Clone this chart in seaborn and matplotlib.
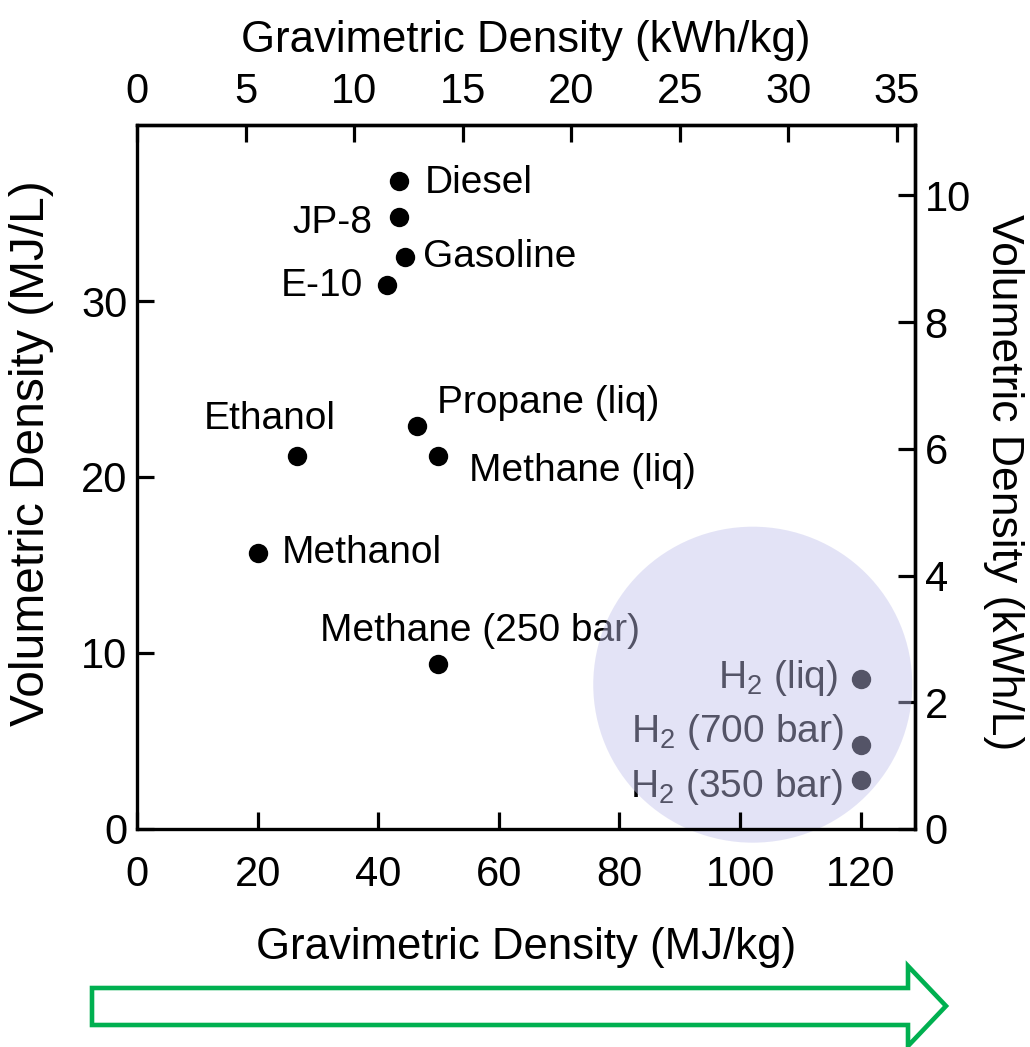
import matplotlib
matplotlib.use("Agg")
import matplotlib.pyplot as plt
import seaborn as sns
import pandas as pd
from matplotlib.patches import Ellipse, Polygon

# ---------------- data ----------------
fuels = ["Diesel", "JP-8", "Gasoline", "E-10", "Ethanol", "Propane (liq)",
         "Methane (liq)", "Methanol", "Methane (250 bar)",
         "H$_2$ (liq)", "H$_2$ (700 bar)", "H$_2$ (350 bar)"]
grav_mj_kg = [43.4, 43.4, 44.4, 41.5, 26.5, 46.4, 49.9, 20.1, 49.9, 120.1, 120.1, 120.1]
vol_mj_l = [36.8, 34.8, 32.5, 30.9, 21.2, 22.9, 21.2, 15.7, 9.4, 8.55, 4.76, 2.78]

x_ticks_mj_kg = [0, 20, 40, 60, 80, 100, 120]
y_ticks_mj_l = [0, 10, 20, 30]
x_ticks_kwh_kg = [0, 5, 10, 15, 20, 25, 30, 35]
y_ticks_kwh_l = [0, 2, 4, 6, 8, 10]

MJ_PER_KWH = 3.6

# label placement: pixel offsets from the dot (dx right, dy up) and alignment
label_dx = [26, -26, 18, -24, -27, 20, 31, 24, 42, -24, -18, -19]
label_dy = [-12, -16, -10, -11, 27, 13, -25, -10, 23, -9, 3, -17]
label_ha = ["left", "right", "left", "right", "center", "left", "left", "left",
            "center", "right", "right", "right"]

# ---------------- style ----------------
sns.set_theme(style="ticks", rc={
    "axes.edgecolor": "black", "axes.linewidth": 2.4,
    "xtick.color": "black", "ytick.color": "black",
    "text.color": "black", "axes.labelcolor": "black",
})
plt.rcParams["font.family"] = ["Liberation Sans", "DejaVu Sans"]
plt.rcParams["mathtext.fontset"] = "custom"
plt.rcParams["mathtext.rm"] = "Liberation Sans"
plt.rcParams["mathtext.it"] = "Liberation Sans:italic"
plt.rcParams["mathtext.default"] = "regular"

W, H = 1030, 1047
fig = plt.figure(figsize=(W / 100, H / 100), dpi=100)
ax = fig.add_axes([137 / W, 1 - 829 / H, 778 / W, 704 / H])

df = pd.DataFrame({"fuel": fuels, "grav": grav_mj_kg, "vol": vol_mj_l})
sns.scatterplot(data=df, x="grav", y="vol", ax=ax, color="black", s=195,
                linewidth=0, legend=False, zorder=1)

for name, gx, vy, dx, dy, ha in zip(fuels, grav_mj_kg, vol_mj_l,
                                     label_dx, label_dy, label_ha):
    ax.annotate(name, (gx, vy), xytext=(dx * 0.72, dy * 0.72),
                textcoords="offset points", ha=ha, va="baseline",
                fontsize=28, color="black", zorder=1.5)

ax.set_xlim(0, 129)
ax.set_ylim(0, 40)
ax.set_xticks(x_ticks_mj_kg)
ax.set_yticks(y_ticks_mj_l)
ax.set_axisbelow(False)
for s in ax.spines.values():
    s.set_visible(True)
    s.set_linewidth(2.4)
    s.set_color("black")
    s.set_zorder(2.5)

ax.tick_params(axis="x", direction="in", length=12, width=2.3, labelsize=30, pad=18.5)
ax.tick_params(axis="y", direction="in", length=12, width=2.3, labelsize=30, pad=7)
ax.set_xlabel("Gravimetric Density (MJ/kg)", fontsize=31.5, labelpad=23)
ax.set_ylabel("Volumetric Density (MJ/L)", fontsize=34.5)
ax.yaxis.set_label_coords((54 - 137) / 778, (829 - 453) / 704, transform=ax.transAxes)
ax.yaxis.label.set_va("bottom")

# secondary axes (unit conversions)
secx = ax.secondary_xaxis("top", functions=(lambda v: v / MJ_PER_KWH,
                                            lambda v: v * MJ_PER_KWH))
secx.set_xticks(x_ticks_kwh_kg)
secx.tick_params(direction="in", length=12, width=2.3, labelsize=30, pad=9)
secx.set_xlabel("Gravimetric Density (kWh/kg)", fontsize=31.5, labelpad=15)
secx.spines["top"].set_linewidth(2.4)

secy = ax.secondary_yaxis("right", functions=(lambda v: v / MJ_PER_KWH,
                                              lambda v: v * MJ_PER_KWH))
secy.set_yticks(y_ticks_kwh_l)
secy.tick_params(direction="in", length=12, width=2.3, labelsize=30, pad=7)
secy.set_ylabel("Volumetric Density (kWh/L)", fontsize=32, rotation=270,
                va="bottom", ha="center", rotation_mode="anchor")
secy.yaxis.set_label_coords((983 - 137) / 778, (829 - 482) / 704, transform=ax.transAxes)
secy.spines["right"].set_linewidth(2.4)

# translucent highlight around hydrogen
hl = Ellipse((102.1, 8.2), width=319 / 6.03, height=316 / 17.6,
             facecolor=(193 / 255, 193 / 255, 235 / 255), edgecolor="none",
             alpha=0.44, zorder=2, clip_on=False)
ax.add_patch(hl)

# green outline arrow under the chart
arrow_px = [(92, 988), (908, 988), (908, 966), (946, 1006), (908, 1046),
            (908, 1025), (92, 1025)]
arrow = Polygon([(x / W, 1 - y / H) for x, y in arrow_px], closed=True,
                transform=fig.transFigure, facecolor="white",
                edgecolor="#00b050", linewidth=3.3, joinstyle="miter")
fig.patches.append(arrow)

fig.savefig("out.png", dpi=100)
